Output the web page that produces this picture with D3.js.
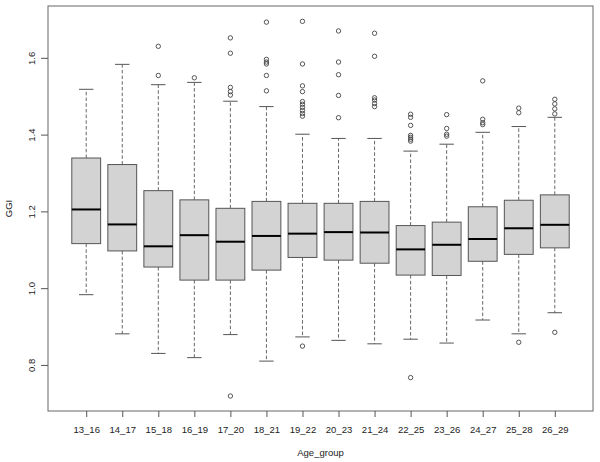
<!DOCTYPE html>
<html>
<head>
<meta charset="utf-8">
<script src="https://cdn.jsdelivr.net/npm/d3@7"></script>
<style>
  body { margin: 0; background: #fff; }
  svg { display: block; font-family: "Liberation Sans", Arial, sans-serif; }
</style>
</head>
<body>
<svg id="chart" width="600" height="462"></svg>
<script>
// age groups and box statistics
var categories = ["13_16","14_17","15_18","16_19","17_20","18_21","19_22","20_23","21_24","22_25","23_26","24_27","25_28","26_29"];
var lowerWhisker = [0.983, 0.881, 0.830, 0.819, 0.879, 0.810, 0.873, 0.864, 0.855, 0.867, 0.857, 0.917, 0.881, 0.936];
var q1 = [1.116, 1.097, 1.055, 1.021, 1.021, 1.047, 1.080, 1.073, 1.065, 1.034, 1.033, 1.070, 1.088, 1.105];
var medians = [1.205, 1.166, 1.109, 1.138, 1.121, 1.136, 1.142, 1.146, 1.145, 1.101, 1.113, 1.128, 1.156, 1.165];
var q3 = [1.339, 1.322, 1.254, 1.230, 1.208, 1.226, 1.221, 1.221, 1.226, 1.163, 1.172, 1.212, 1.229, 1.243];
var upperWhisker = [1.518, 1.583, 1.530, 1.536, 1.487, 1.473, 1.401, 1.390, 1.390, 1.357, 1.375, 1.406, 1.421, 1.445];
var outliers = [
  [],
  [],
  [1.630, 1.554],
  [1.548],
  [1.652, 1.612, 1.523, 1.512, 1.503, 0.719],
  [1.693, 1.596, 1.589, 1.584, 1.554, 1.514],
  [1.695, 1.584, 1.527, 1.512, 1.486, 1.479, 1.471, 1.463, 1.455, 1.448, 0.849],
  [1.670, 1.589, 1.556, 1.502, 1.444],
  [1.664, 1.604, 1.496, 1.490, 1.481, 1.473],
  [1.453, 1.445, 1.424, 1.398, 1.393, 1.388, 1.383, 0.767],
  [1.452, 1.416, 1.401, 1.396],
  [1.540, 1.440, 1.431, 1.426],
  [1.469, 1.457, 0.859],
  [1.492, 1.480, 1.467, 1.454, 0.885]
];
var yTicks = [0.8, 1.0, 1.2, 1.4, 1.6];

var plot = {left: 48, top: 6, right: 593, bottom: 411};
var svg = d3.select("#chart");

var x = d3.scaleLinear().domain([-0.06, categories.length + 1.06]).range([plot.left, plot.right]);
var y = d3.scaleLinear().domain([0.680, 1.735]).range([plot.bottom, plot.top]);
var boxW = x(0.8) - x(0);
var capW = boxW / 2;

var boxes = categories.map(function(c, i){
    return {name: c, pos: i + 1, lo: lowerWhisker[i], q1: q1[i], med: medians[i], q3: q3[i], hi: upperWhisker[i], out: outliers[i]};
});

var g = svg.selectAll("g.box").data(boxes).enter().append("g").attr("class", "box");

// whiskers (dashed)
g.append("line")
    .attr("x1", function(d){ return x(d.pos); }).attr("x2", function(d){ return x(d.pos); })
    .attr("y1", function(d){ return y(d.q3); }).attr("y2", function(d){ return y(d.hi); })
    .attr("stroke", "#666").attr("stroke-dasharray", "3.5,2.2");
g.append("line")
    .attr("x1", function(d){ return x(d.pos); }).attr("x2", function(d){ return x(d.pos); })
    .attr("y1", function(d){ return y(d.q1); }).attr("y2", function(d){ return y(d.lo); })
    .attr("stroke", "#666").attr("stroke-dasharray", "3.5,2.2");
// staples
g.append("line")
    .attr("x1", function(d){ return x(d.pos) - capW / 2; }).attr("x2", function(d){ return x(d.pos) + capW / 2; })
    .attr("y1", function(d){ return y(d.hi); }).attr("y2", function(d){ return y(d.hi); })
    .attr("stroke", "#555");
g.append("line")
    .attr("x1", function(d){ return x(d.pos) - capW / 2; }).attr("x2", function(d){ return x(d.pos) + capW / 2; })
    .attr("y1", function(d){ return y(d.lo); }).attr("y2", function(d){ return y(d.lo); })
    .attr("stroke", "#555");
// box
g.append("rect")
    .attr("x", function(d){ return x(d.pos) - boxW / 2; })
    .attr("width", boxW)
    .attr("y", function(d){ return y(d.q3); })
    .attr("height", function(d){ return y(d.q1) - y(d.q3); })
    .attr("fill", "#d3d3d3").attr("stroke", "#555").attr("stroke-width", 1);
// median
g.append("line")
    .attr("x1", function(d){ return x(d.pos) - boxW / 2; }).attr("x2", function(d){ return x(d.pos) + boxW / 2; })
    .attr("y1", function(d){ return y(d.med); }).attr("y2", function(d){ return y(d.med); })
    .attr("stroke", "#000").attr("stroke-width", 2);
// outliers
g.selectAll("circle").data(function(d){ return d.out.map(function(v){ return {pos: d.pos, v: v}; }); })
    .enter().append("circle")
    .attr("cx", function(d){ return x(d.pos); })
    .attr("cy", function(d){ return y(d.v); })
    .attr("r", 2.2)
    .attr("fill", "none").attr("stroke", "#444").attr("stroke-width", 0.9);

// frame
svg.append("rect")
    .attr("x", plot.left).attr("y", plot.top)
    .attr("width", plot.right - plot.left).attr("height", plot.bottom - plot.top)
    .attr("fill", "none").attr("stroke", "#666");

// x axis
var xAxis = d3.axisBottom(x)
    .tickValues(d3.range(1, categories.length + 1))
    .tickFormat(function(d){ return categories[d - 1]; })
    .tickSize(6).tickPadding(9);
var gx = svg.append("g").attr("transform", "translate(0," + plot.bottom + ")").call(xAxis);
gx.select(".domain").remove();

// y axis, labels turned like R's las=0
var yAxis = d3.axisLeft(y).tickValues(yTicks).tickFormat(d3.format(".1f")).tickSize(7);
var gy = svg.append("g").attr("transform", "translate(" + plot.left + ",0)").call(yAxis);
gy.select(".domain").remove();
gy.selectAll("text")
    .attr("transform", "rotate(-90)")
    .attr("x", 0).attr("y", -13).attr("dy", 0)
    .attr("text-anchor", "middle");

svg.selectAll(".tick line").attr("stroke", "#555");
svg.selectAll(".tick text").attr("font-size", 9.5).attr("fill", "#222")
    .attr("font-family", "'Liberation Sans', Arial, sans-serif");

// axis titles
svg.append("text")
    .attr("x", (plot.left + plot.right) / 2).attr("y", 456)
    .attr("text-anchor", "middle").attr("font-size", 9.5).attr("fill", "#222")
    .text("Age_group");
svg.append("text")
    .attr("transform", "translate(11.5," + ((plot.top + plot.bottom) / 2) + ") rotate(-90)")
    .attr("text-anchor", "middle").attr("font-size", 9.5).attr("fill", "#222")
    .text("GGI");
</script>
</body>
</html>
